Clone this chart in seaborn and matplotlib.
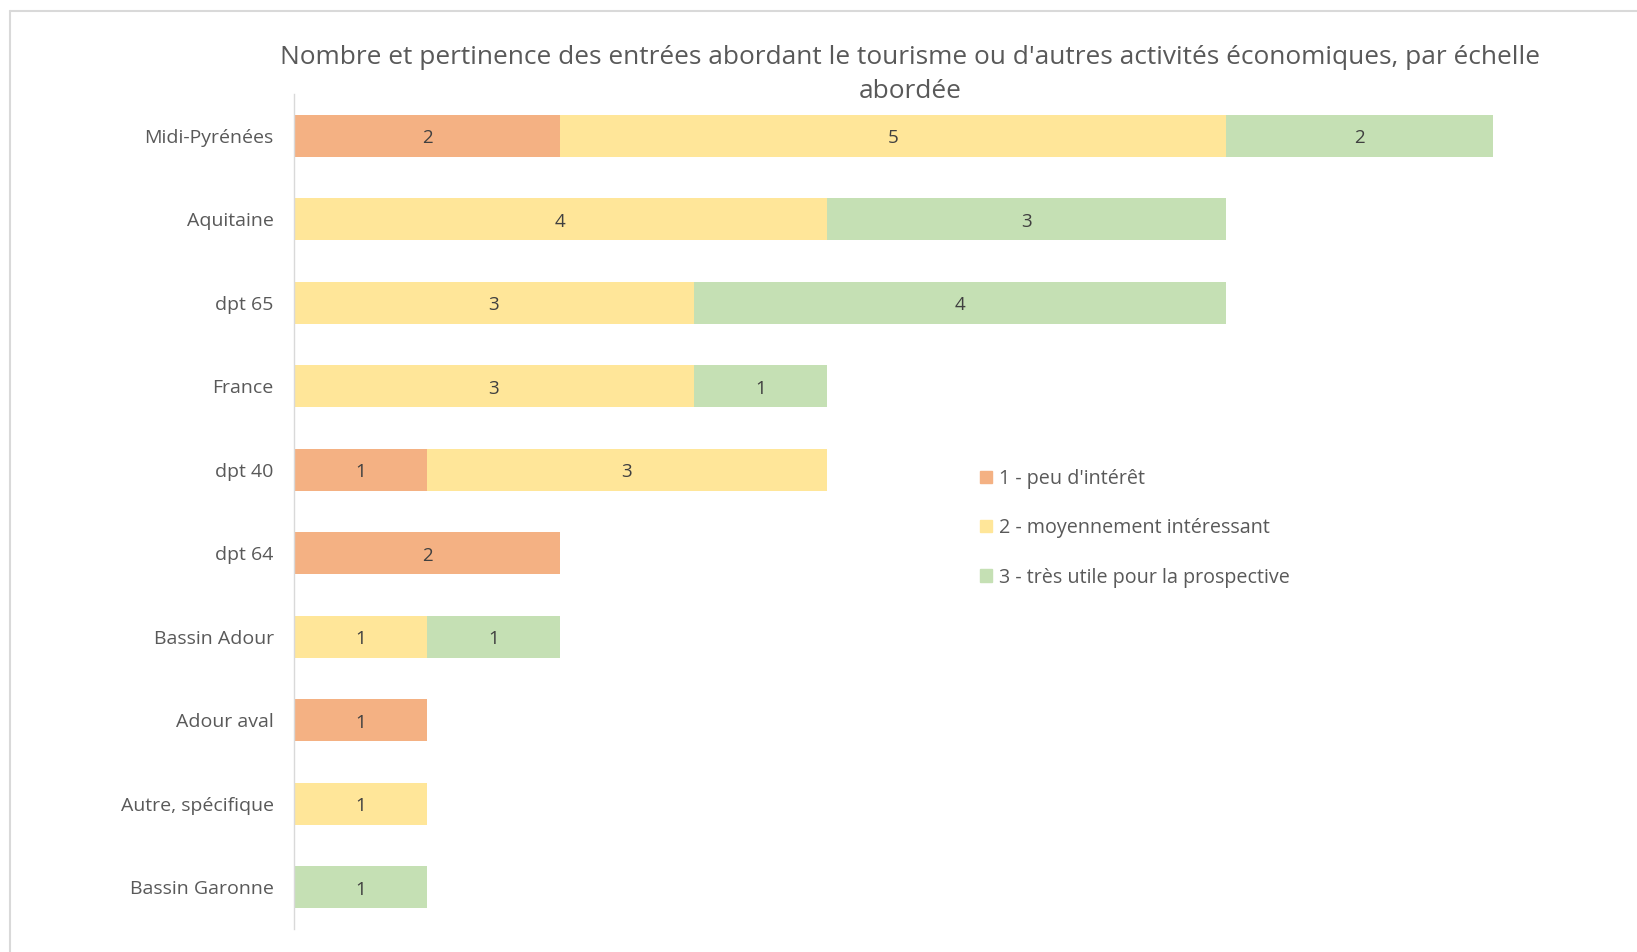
import numpy as np
import pandas as pd
import matplotlib.pyplot as plt
import matplotlib.patches as mpatches
from matplotlib.lines import Line2D
import seaborn as sns

# data
echelles = ['Midi-Pyrénées', 'Aquitaine', 'dpt 65', 'France', 'dpt 40', 'dpt 64',
            'Bassin Adour', 'Adour aval', 'Autre, spécifique', 'Bassin Garonne']
peu = [2, 0, 0, 0, 1, 2, 0, 1, 0, 0]
moyen = [5, 4, 3, 3, 3, 0, 1, 0, 1, 0]
tres = [2, 3, 4, 1, 0, 0, 1, 0, 0, 1]
series = ['1 - peu d\'intérêt', '2 - moyennement intéressant', '3 - très utile pour la prospective']
couleurs = ['#F4B183', '#FFE699', '#C5E0B4']

df = pd.DataFrame({'echelle': echelles, 'peu': peu, 'moyen': moyen, 'tres': tres})
df['c1'] = df['peu']
df['c2'] = df['c1'] + df['moyen']
df['c3'] = df['c2'] + df['tres']

sns.set_style('white')
plt.rcParams['font.family'] = ['Open Sans', 'DejaVu Sans']
gris = '#595959'

fig = plt.figure(figsize=(16.37, 9.52), dpi=100)
ax = fig.add_axes([294 / 1637, 1 - 929 / 952, 1332 / 1637, 835 / 952])

# stacked bars: draw cumulative totals from back to front
for col, c in zip(['c3', 'c2', 'c1'], couleurs[::-1]):
    sns.barplot(data=df, x=col, y='echelle', orient='h', color=c, width=0.5,
                saturation=1, ax=ax, linewidth=0)

# value labels in the middle of each segment
for i, row in df.iterrows():
    start = 0
    for v in [row['peu'], row['moyen'], row['tres']]:
        if v > 0:
            ax.text(start + v / 2, i + 0.03, str(v), ha='center', va='center',
                    fontsize=13.5, color='#404040')
        start += v

ax.set_xlim(0, 10)
ax.set_ylim(9.5, -0.5)
ax.set_xlabel('')
ax.set_ylabel('')
ax.set_xticks([])
for s in ['top', 'right', 'bottom']:
    ax.spines[s].set_visible(False)
ax.spines['left'].set_color('#D9D9D9')
ax.spines['left'].set_linewidth(1)
ax.tick_params(axis='y', length=0, pad=14.5, labelsize=14, labelcolor=gris)

handles = [mpatches.Patch(color=c, label=l) for c, l in zip(couleurs, series)]
leg = ax.legend(handles=handles, loc='upper left', bbox_to_anchor=(962 / 1637, 1 - 451 / 952),
                bbox_transform=fig.transFigure, frameon=False, fontsize=14.2,
                handlelength=0.6, handleheight=0.6, handletextpad=0.4, labelspacing=1.49)
for t in leg.get_texts():
    t.set_color(gris)

fig.text(910 / 1637, 1 - 58 / 952, "Nombre et pertinence des entrées abordant le tourisme ou d'autres activités économiques, par échelle",
         ha='center', va='center', fontsize=18.9, color=gris)
fig.text(910 / 1637, 1 - 91 / 952, 'abordée', ha='center', va='center', fontsize=18.9, color=gris)

# outer chart border (top and left visible)
fig.add_artist(Line2D([10 / 1637, 1], [1 - 11 / 952, 1 - 11 / 952], transform=fig.transFigure,
                      color='#D9D9D9', linewidth=1.5))
fig.add_artist(Line2D([10 / 1637, 10 / 1637], [0, 1 - 11 / 952], transform=fig.transFigure,
                      color='#D9D9D9', linewidth=1.5))

fig.savefig('out.png', dpi=100)
